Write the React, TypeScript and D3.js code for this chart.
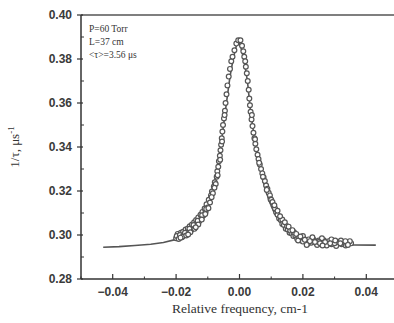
import React from 'react';
import * as d3 from 'd3';

// tick values
const xTicks = [-0.04, -0.02, 0, 0.02, 0.04];
const xMinor = [-0.05, -0.03, -0.01, 0.01, 0.03, 0.05];
const yTicks = [0.28, 0.3, 0.32, 0.34, 0.36, 0.38, 0.4];
const yMinor = [0.29, 0.31, 0.33, 0.35, 0.37, 0.39];

const notes = ['P=60 Torr', 'L=37 cm', '<τ>=3.56 μs'];

// fitted curve
const fitX = [-0.043, -0.038, -0.033, -0.028, -0.024, -0.02, -0.017, -0.015, -0.013, -0.011, -0.009, -0.0075, -0.006, -0.0045, -0.003, -0.002, -0.001, -0.0003, 0.0005, 0.0015, 0.0025, 0.0035, 0.005, 0.0065, 0.008, 0.0095, 0.011, 0.013, 0.015, 0.018, 0.021, 0.025, 0.03, 0.036, 0.043];
const fitY = [0.2944, 0.2947, 0.2952, 0.2958, 0.2966, 0.298, 0.3, 0.3022, 0.3055, 0.3105, 0.318, 0.3265, 0.339, 0.356, 0.372, 0.38, 0.386, 0.388, 0.385, 0.379, 0.37, 0.356, 0.341, 0.33, 0.3215, 0.315, 0.31, 0.3055, 0.3025, 0.2995, 0.2978, 0.2965, 0.2958, 0.2955, 0.2954];

// measured points
const leftTail: [number, number][] = [
  [-0.02, 0.2985], [-0.0195, 0.3005], [-0.019, 0.2995], [-0.0185, 0.301], [-0.0182, 0.299], [-0.0178, 0.3015],
  [-0.0175, 0.3002], [-0.017, 0.3025], [-0.0167, 0.3008], [-0.0163, 0.303], [-0.016, 0.3015], [-0.0157, 0.304],
  [-0.0153, 0.3022], [-0.015, 0.3048], [-0.0147, 0.303], [-0.0143, 0.3058], [-0.014, 0.304], [-0.0137, 0.3068],
  [-0.0133, 0.3052], [-0.013, 0.308], [-0.0127, 0.3062], [-0.0123, 0.3092], [-0.012, 0.3075], [-0.0117, 0.3105],
  [-0.0113, 0.309], [-0.011, 0.312], [-0.0107, 0.3105], [-0.0104, 0.314], [-0.01, 0.3125],
  [-0.0198, 0.2995], [-0.0188, 0.3], [-0.0172, 0.301], [-0.0158, 0.3028], [-0.0145, 0.3045], [-0.0132, 0.3065],
  [-0.0118, 0.309], [-0.0105, 0.3118],
  [-0.0192, 0.2982], [-0.018, 0.2992], [-0.0168, 0.2998], [-0.0155, 0.3012], [-0.0142, 0.3028], [-0.013, 0.3048],
  [-0.0119, 0.307], [-0.0108, 0.3095], [-0.0098, 0.3122], [-0.0186, 0.2988], [-0.0162, 0.3002], [-0.0138, 0.3035],
];
const leftBranch: [number, number][] = [
  [-0.0097, 0.316], [-0.0093, 0.3148], [-0.009, 0.318], [-0.0087, 0.3198], [-0.0084, 0.319], [-0.0081, 0.322],
  [-0.0078, 0.324], [-0.0075, 0.3232], [-0.0072, 0.3265], [-0.007, 0.329], [-0.0067, 0.331], [-0.0065, 0.3335],
  [-0.0062, 0.336], [-0.006, 0.3385], [-0.0058, 0.341], [-0.0056, 0.344], [-0.0054, 0.347], [-0.0052, 0.35],
  [-0.0049, 0.353], [-0.0046, 0.3565], [-0.0044, 0.36], [-0.0041, 0.364], [-0.0038, 0.368], [-0.0034, 0.372],
  [-0.003, 0.3755], [-0.0026, 0.379], [-0.0022, 0.381], [-0.0016, 0.384], [-0.001, 0.387], [-0.0004, 0.3885],
  [-0.0088, 0.3172], [-0.0079, 0.3215], [-0.0069, 0.3272], [-0.0061, 0.3342], [-0.0055, 0.3425], [-0.0047, 0.3545],
];
const rightBranch: [number, number][] = [
  [0.0003, 0.3885], [0.0008, 0.386], [0.0012, 0.3835], [0.0015, 0.381], [0.0018, 0.379], [0.002, 0.3765],
  [0.0023, 0.3735], [0.0026, 0.37], [0.0029, 0.366], [0.0031, 0.362], [0.0033, 0.359], [0.0035, 0.356],
  [0.0038, 0.3525], [0.0041, 0.3495], [0.0044, 0.3465], [0.0047, 0.344], [0.005, 0.3415], [0.0053, 0.339],
  [0.0057, 0.3365], [0.006, 0.3345], [0.0064, 0.332], [0.0068, 0.33], [0.0072, 0.328], [0.0076, 0.3262],
  [0.008, 0.3245], [0.0084, 0.3225], [0.0088, 0.321], [0.0092, 0.3192], [0.0096, 0.318],
  [0.0039, 0.3545], [0.0049, 0.3435], [0.0062, 0.3328], [0.0074, 0.3265], [0.0086, 0.3205], [0.0098, 0.3162],
];
const rightTail: [number, number][] = [
  [0.01, 0.316], [0.0104, 0.315], [0.0108, 0.3132], [0.0112, 0.312], [0.0116, 0.3102], [0.012, 0.3092],
  [0.0125, 0.3075], [0.013, 0.3068], [0.0135, 0.305], [0.014, 0.3045], [0.0146, 0.3028], [0.0152, 0.3025],
  [0.0158, 0.301], [0.0164, 0.3008], [0.017, 0.2995], [0.0176, 0.2998], [0.0182, 0.2982], [0.0188, 0.299],
  [0.0195, 0.2975], [0.0202, 0.2985], [0.021, 0.2968], [0.0218, 0.298], [0.0226, 0.2965], [0.0234, 0.2978],
  [0.0242, 0.2962], [0.025, 0.2975], [0.0258, 0.296], [0.0266, 0.2976], [0.0274, 0.2958], [0.0282, 0.2972],
  [0.029, 0.2958], [0.0298, 0.297], [0.0306, 0.2958], [0.0314, 0.2968], [0.0322, 0.2958], [0.033, 0.2965],
  [0.0338, 0.296], [0.0345, 0.2966], [0.0352, 0.2962],
  [0.015, 0.304], [0.016, 0.302], [0.0172, 0.3012], [0.0185, 0.2975], [0.02, 0.2995], [0.0215, 0.296],
  [0.023, 0.299], [0.0245, 0.2955], [0.026, 0.2985], [0.0275, 0.2952], [0.029, 0.298], [0.0305, 0.295],
  [0.032, 0.2975], [0.0335, 0.2952], [0.0348, 0.2972], [0.012, 0.311], [0.0135, 0.307], [0.011, 0.3135],
  [0.02, 0.297], [0.025, 0.2968], [0.03, 0.2963], [0.034, 0.2958],
  [0.0128, 0.3085], [0.0143, 0.3058], [0.0155, 0.3038], [0.0167, 0.3022], [0.0179, 0.3005], [0.0192, 0.2993],
  [0.0206, 0.2978], [0.0222, 0.2972], [0.0238, 0.2968], [0.0254, 0.2962], [0.027, 0.2968], [0.0286, 0.2962],
  [0.0302, 0.2975], [0.0318, 0.2962], [0.0334, 0.2972], [0.0342, 0.2955], [0.0212, 0.2955], [0.0262, 0.2952],
];

const W = 394;
const H = 323;
const margin = { top: 15, right: -4, bottom: 44, left: 81 };

const App = () => {
  const x = d3.scaleLinear().domain([-0.05, 0.05]).range([margin.left, W - margin.right]);
  const y = d3.scaleLinear().domain([0.28, 0.4]).range([H - margin.bottom, margin.top]);

  const line = d3.line<number>().x((_, i) => x(fitX[i])).y((d) => y(d));
  const points = [...leftTail, ...leftBranch, ...rightBranch, ...rightTail];

  const x0 = margin.left;
  const yBottom = H - margin.bottom;
  const axisColor = '#333';
  const sans = '"Liberation Sans", Arial, sans-serif';
  const serif = '"Liberation Serif", "Times New Roman", serif';

  return (
    <svg width={W} height={H} style={{ position: 'absolute', left: 0, top: 0, background: '#fff' }}>
      {/* frame */}
      <line x1={x0} x2={W} y1={margin.top} y2={margin.top} stroke="#555" strokeWidth={1.3} />
      <line x1={x0} x2={x0} y1={margin.top} y2={yBottom} stroke={axisColor} strokeWidth={1.5} />
      <line x1={x0} x2={W} y1={yBottom} y2={yBottom} stroke={axisColor} strokeWidth={1.5} />

      {/* y ticks */}
      {yTicks.map((t) => (
        <g key={t}>
          <line x1={x0 - 4} x2={x0 + 2} y1={y(t)} y2={y(t)} stroke={axisColor} strokeWidth={1.2} />
          <text x={x0 - 9} y={y(t)} dy="0.36em" textAnchor="end" fontFamily={sans} fontSize={12} fontWeight={600} fill="#3a3a3a">
            {d3.format('.2f')(t)}
          </text>
        </g>
      ))}
      {yMinor.map((t) => (
        <line key={t} x1={x0} x2={x0 + 3} y1={y(t)} y2={y(t)} stroke={axisColor} strokeWidth={1} />
      ))}

      {/* x ticks */}
      {xTicks.map((t) => (
        <g key={t}>
          <line x1={x(t)} x2={x(t)} y1={yBottom} y2={yBottom - 5} stroke={axisColor} strokeWidth={1.2} />
          <text x={x(t)} y={yBottom + 17} textAnchor="middle" fontFamily={sans} fontSize={12} fontWeight={600} fill="#3a3a3a">
            {d3.format('.2f')(t)}
          </text>
        </g>
      ))}
      {xMinor.map((t) => (
        <line key={t} x1={x(t)} x2={x(t)} y1={yBottom} y2={yBottom - 2.5} stroke={axisColor} strokeWidth={1} />
      ))}

      {/* axis titles */}
      <text x={240} y={313} textAnchor="middle" fontFamily={serif} fontSize={13.5} fill="#333">
        Relative frequency, cm-1
      </text>
      <text transform="translate(19,147) rotate(-90)" textAnchor="middle" fontFamily={serif} fontSize={13} fill="#333">
        1/τ, μs<tspan dy={-5} fontSize={9}>-1</tspan>
      </text>

      {/* annotations */}
      {notes.map((n, i) => (
        <text key={n} x={89} y={32 + i * 13} fontFamily={serif} fontSize={9.5} fill="#333">
          {n}
        </text>
      ))}

      {/* fit curve */}
      <path d={line(fitY) ?? ''} fill="none" stroke="#555" strokeWidth={1.6} />

      {/* data */}
      {points.map((p, i) => (
        <circle key={i} cx={x(p[0])} cy={y(p[1])} r={2.4} fill="#fff" stroke="#555" strokeWidth={1.2} />
      ))}
    </svg>
  );
};

export default App;
